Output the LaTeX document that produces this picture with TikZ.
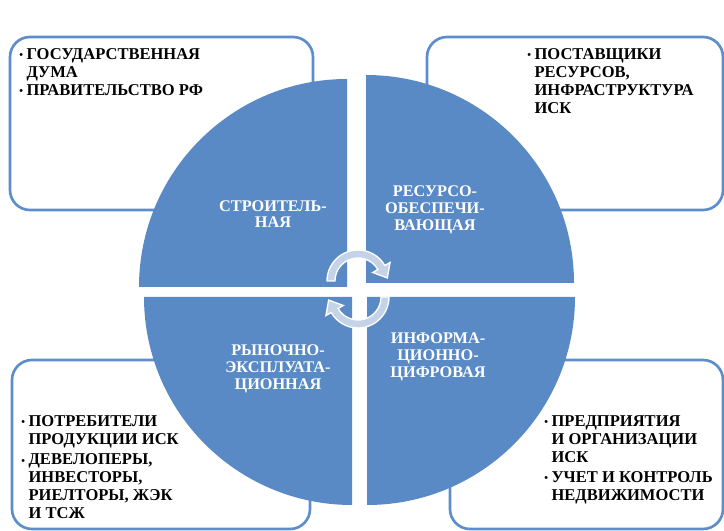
\documentclass[tikz,border=0pt]{standalone}
\usepackage{fontspec}
\setmainfont{Liberation Serif}
\usepackage{tikz}
\definecolor{CyBlue}{HTML}{5A8AC6}
\definecolor{CyLine}{HTML}{5D8ECB}
\definecolor{CyArrow}{HTML}{C5D3E9}
\newcommand\bul{\makebox[5.5pt][l]{\raisebox{0.6pt}{\footnotesize\textbullet}}}
\newcommand\bulsp{\hspace*{5.5pt}}

\begin{document}
\begin{tikzpicture}[x=0.75pt,y=0.75pt,
  sidebox/.style={draw=CyLine,line width=2pt,rounded corners=15pt,fill=white},
  sidetext/.style={anchor=north west,align=left,inner sep=0pt,
    font=\fontsize{12.4}{13.5}\selectfont\bfseries},
  quadtext/.style={align=center,inner sep=0pt,text=white,
    font=\fontsize{12.2}{12.5}\selectfont\bfseries}]
\path[use as bounding box] (0,0) rectangle (724,531);
% outer boxes
\draw[sidebox] (10,494) rectangle (313,321);
\draw[sidebox] (427,494) rectangle (723,321);
\draw[sidebox] (12,171) rectangle (310,2);
\draw[sidebox] (450,171) rectangle (723,2);
\node[sidetext] (govt) at (19,483) {\bul ГОСУДАРСТВЕННАЯ\\ \bulsp ДУМА\\ \bul ПРАВИТЕЛЬСТВО РФ};
\node[sidetext] (supply) at (527,483) {\bul ПОСТАВЩИКИ\\ \bulsp РЕСУРСОВ,\\ \bulsp ИНФРАСТРУКТУРА\\ \bulsp ИСК};
\node[sidetext] (market) at (21,116) {\bul ПОТРЕБИТЕЛИ\\ \bulsp ПРОДУКЦИИ ИСК\\[2pt] \bul ДЕВЕЛОПЕРЫ,\\ \bulsp ИНВЕСТОРЫ,\\ \bulsp РИЕЛТОРЫ, ЖЭК\\ \bulsp И ТСЖ};
\node[sidetext] (orgs) at (544,116) {\bul ПРЕДПРИЯТИЯ\\ \bulsp И ОРГАНИЗАЦИИ\\ \bulsp ИСК\\[2pt] \bul УЧЕТ И КОНТРОЛЬ\\ \bulsp НЕДВИЖИМОСТИ};
% quadrants
\fill[CyBlue] (347,244) -- (139,244) arc[start angle=180,end angle=90,radius=208] -- cycle;
\fill[CyBlue] (366,248) -- (366,456) arc[start angle=90,end angle=0,radius=208] -- cycle;
\fill[CyBlue] (352,234) -- (144,234) arc[start angle=180,end angle=270,radius=208] -- cycle;
\fill[CyBlue] (367,234) -- (575,234) arc[start angle=0,end angle=-90,radius=208] -- cycle;
\node[quadtext] (build) at (273,317) {СТРОИТЕЛЬ-\\НАЯ};
\node[quadtext] (res) at (435,321) {РЕСУРСО-\\ОБЕСПЕЧИ-\\ВАЮЩАЯ};
\node[quadtext] (exploit) at (278,162) {РЫНОЧНО-\\ЭКСПЛУАТА-\\ЦИОННАЯ};
\node[quadtext] (digit) at (438,174) {ИНФОРМА-\\ЦИОННО-\\ЦИФРОВАЯ};
% cycle arrows
\foreach \cx/\cy/\rot in {358/250/0,358/234/180}
  \filldraw[fill=CyArrow,draw=white,line width=1pt,shift={(\cx,\cy)},rotate=\rot]
    (180:31) arc[start angle=180,end angle=30,radius=31] -- (30:37) -- (6:29.5)
    -- (30:17) -- (30:23) arc[start angle=30,end angle=180,radius=23] -- cycle;
\end{tikzpicture}
\end{document}
